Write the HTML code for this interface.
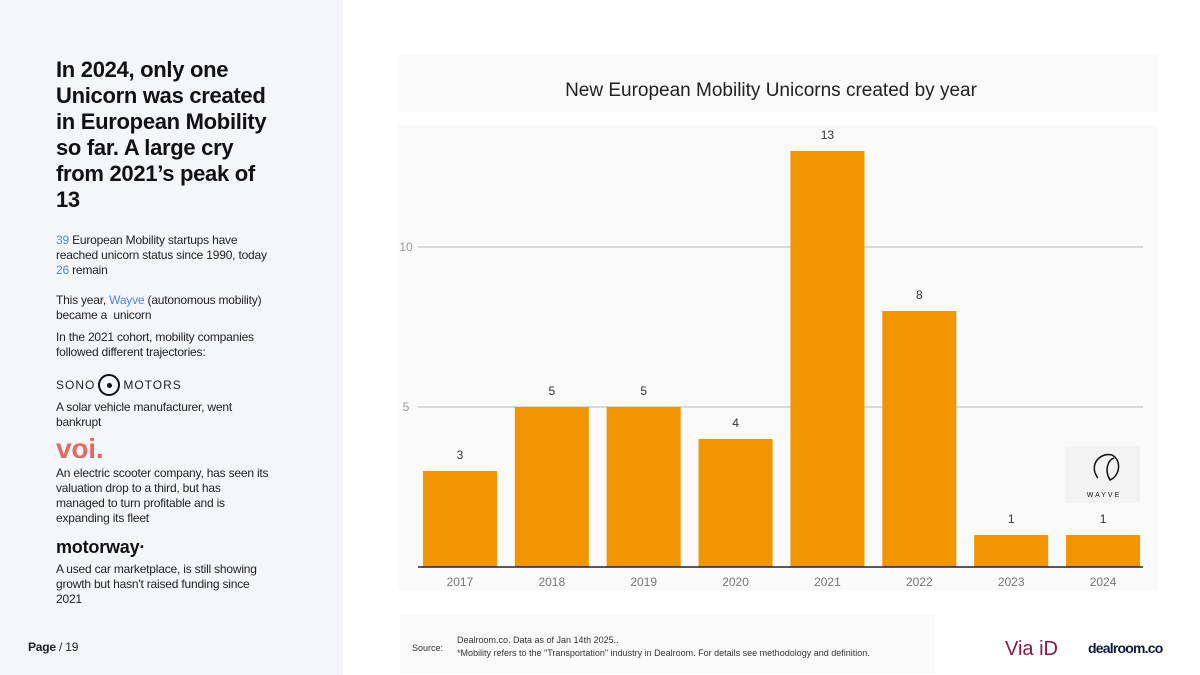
<!DOCTYPE html>
<html><head><meta charset="utf-8"><style>
body{margin:0;width:1200px;height:675px;position:relative;background:#fff;font-family:"Liberation Sans",sans-serif;overflow:hidden}
.left{position:absolute;left:0;top:0;width:343px;height:675px;background:#f5f6fa}
.h{position:absolute;left:56px;top:57px;width:280px;font-size:22px;font-weight:bold;line-height:26px;color:#111;letter-spacing:-0.3px;white-space:nowrap}
.p{position:absolute;left:56px;font-size:12px;line-height:15px;color:#222;width:280px;letter-spacing:-0.2px;white-space:nowrap}
.b{color:#4a86d8}
</style></head><body>
<div class="left">
<div class="h">In 2024, only one<br>Unicorn was created<br>in European Mobility<br>so far. A large cry<br>from 2021’s peak of<br>13</div>
<div class="p" style="top:233px"><span class="b">39</span> European Mobility startups have<br>reached unicorn status since 1990, today<br><span class="b">26</span> remain</div>
<div class="p" style="top:293px">This year, <span class="b">Wayve</span> (autonomous mobility)<br>became a&nbsp; unicorn</div>
<div class="p" style="top:330px">In the 2021 cohort, mobility companies<br>followed different trajectories:</div>
<div class="p" style="top:374px;font-size:12px;letter-spacing:1px;display:flex;align-items:center;gap:3px">SONO<span style="display:inline-block;width:22px;height:22px;border:2px solid #111;border-radius:50%;box-sizing:border-box;position:relative"><span style="position:absolute;left:7px;top:7px;width:5px;height:5px;background:#111;border-radius:50%"></span></span>MOTORS</div>
<div class="p" style="top:400px">A solar vehicle manufacturer, went<br>bankrupt</div>
<div class="p" style="top:434px;font-size:28px;line-height:30px;font-weight:bold;color:#e06b62">voi.</div>
<div class="p" style="top:466px">An electric scooter company, has seen its<br>valuation drop to a third, but has<br>managed to turn profitable and is<br>expanding its fleet</div>
<div class="p" style="top:537px;font-size:18px;line-height:20px;font-weight:bold;color:#111">motorway·</div>
<div class="p" style="top:562px">A used car marketplace, is still showing<br>growth but hasn't raised funding since<br>2021</div>
<div class="p" style="top:640px;left:28px"><b>Page</b> / 19</div>
</div>
<svg id="c" width="1200" height="675" style="position:absolute;left:0;top:0">
<rect x="398" y="55" width="760" height="57" fill="#fafafa"/>
<rect x="398" y="125" width="760" height="465" fill="#fafafa"/>
<text x="771" y="96" text-anchor="middle" font-size="19" fill="#222">New European Mobility Unicorns created by year</text>
<rect x="400" y="615" width="535" height="58" fill="#fafafa"/>
<text x="412" y="651" font-size="9" fill="#333">Source:</text>
<text x="457" y="643" font-size="9" fill="#333">Dealroom.co. Data as of Jan 14th 2025..</text>
<text x="457" y="656" font-size="9" fill="#333">*Mobility refers to the "Transportation" industry in Dealroom. For details see methodology and definition.</text>
<text x="1005" y="655" font-size="20" fill="#8a1848">Via iD</text>
<text x="1088" y="653" font-size="14" font-weight="bold" fill="#0b1a3a" letter-spacing="-0.8">dealroom.co</text>
<rect x="1065" y="446" width="75" height="57" fill="#f3f3f3"/>
<path d="M1098 478 C1088 465 1100 452 1112 455 C1122 460 1120 476 1110 480 C1104 470 1108 460 1114 458" fill="none" stroke="#111" stroke-width="1.5"/>
<text x="1104" y="497" text-anchor="middle" font-size="7" letter-spacing="2" fill="#111">WAYVE</text>
<g id="g"></g>
</svg>
<script>
const categories=["2017","2018","2019","2020","2021","2022","2023","2024"];
const values=[3,5,5,4,13,8,1,1];
const ticks=[5,10];
const X0=414,X1=1149,Y0=567,PPU=32;
const bw=(X1-X0)/categories.length;
const y=v=>Y0-v*PPU, x=i=>X0+bw*i+bw/2;
const g=document.getElementById('g'),ns='http://www.w3.org/2000/svg';
function mk(t,a,txt){const e=document.createElementNS(ns,t);for(const k in a)e.setAttribute(k,a[k]);if(txt!=null)e.textContent=txt;g.appendChild(e);return e;}
ticks.forEach(t=>{
const l=mk('line',{x1:418,x2:1143,y1:y(t),y2:y(t),stroke:'#ccc','stroke-width':1.5});


const tx=mk('text',{x:406,y:y(t)+4,'font-size':12,fill:'#999','text-anchor':'middle'},t);


});
categories.forEach((c,i)=>{
const r=mk('rect',{x:x(i)-37,y:y(values[i]),width:74,height:values[i]*PPU,fill:'#f19500'});


const v=mk('text',{x:x(i),y:y(values[i])-12,'font-size':12,fill:'#333','text-anchor':'middle'},values[i]);


const t=mk('text',{x:x(i),y:586,'font-size':12,fill:'#777','text-anchor':'middle'},c);


});
const ax=mk('line',{x1:418,x2:1143,y1:Y0,y2:Y0,stroke:'#222','stroke-width':1.5});


</script>
</body></html>
